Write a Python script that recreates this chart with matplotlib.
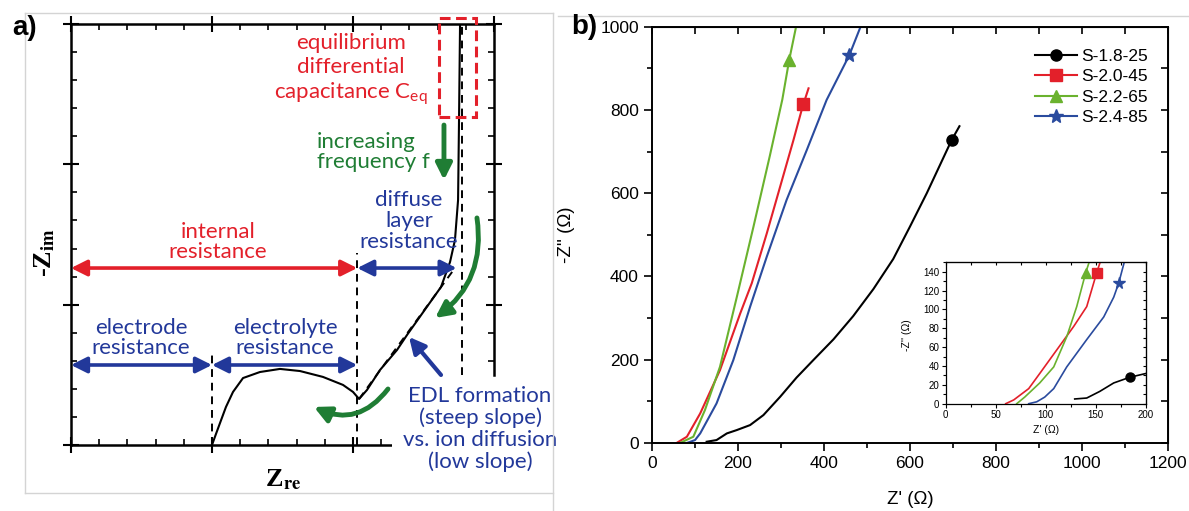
import matplotlib
matplotlib.use('Agg')
import matplotlib.pyplot as plt
from matplotlib.lines import Line2D
from matplotlib.patches import Rectangle, FancyArrowPatch
from matplotlib.ticker import MultipleLocator

plt.rcParams['mathtext.fontset'] = 'stix'
plt.rcParams['font.family'] = ['Liberation Sans', 'DejaVu Sans']

# ---- panel a: schematic Nyquist curve (arbitrary units, 0..3) ----
schem_x = [1.000, 1.028, 1.057, 1.099, 1.149, 1.220, 1.340, 1.482, 1.624, 1.787,
           1.929, 2.000, 2.043, 2.099, 2.191, 2.312, 2.383, 2.518, 2.624, 2.688,
           2.723, 2.745, 2.752, 2.759]
schem_y = [0.000, 0.078, 0.157, 0.271, 0.378, 0.477, 0.520, 0.542, 0.527, 0.485,
           0.428, 0.378, 0.328, 0.392, 0.534, 0.677, 0.784, 0.976, 1.126, 1.304,
           1.461, 1.746, 2.337, 3.000]
slope_x = [2.043, 2.723]
slope_y = [0.328, 1.261]
r_electrode = 1.0      # end of electrode resistance
r_internal = 2.03      # end of internal resistance
r_diffuse = 2.77       # end of diffuse layer resistance
ceq_box = (2.61, 2.34, 0.26, 0.70)   # x, y, w, h of the C_eq region

# ---- panel b: measured spectra ----
names = ['S-1.8-25', 'S-2.0-45', 'S-2.2-65', 'S-2.4-85']
colors = ['black', '#e3202a', '#6ab22e', '#2a4b9e']
markers = ['o', 's', '^', '*']

zre_18 = [127, 150, 174, 197, 228, 259, 298, 336, 375, 422, 468, 515, 561, 600, 639, 697, 715]
zim_18 = [3, 7, 23, 31, 43, 67, 111, 157, 199, 249, 305, 370, 442, 520, 600, 728, 761]
zre_20 = [57, 81, 112, 158, 205, 232, 267, 298, 329, 348, 352, 364]
zim_20 = [0, 15, 71, 175, 311, 384, 504, 616, 728, 800, 814, 852]
zre_22 = [65, 96, 123, 158, 197, 236, 274, 303, 319, 335]
zim_22 = [0, 15, 79, 183, 350, 520, 690, 825, 920, 1000]
zre_24 = [81, 100, 112, 150, 189, 228, 267, 313, 360, 406, 459, 485]
zim_24 = [0, 7, 23, 95, 199, 327, 448, 584, 704, 824, 932, 1000]
mark_main = [15, 10, 8, 10]

# inset (low impedance region)
zre_18i = [129, 141, 154, 168, 184, 200]
zim_18i = [5, 6, 13, 22, 28, 32]
zre_20i = [60, 68, 83, 94, 111, 128, 141, 151, 155]
zim_20i = [0, 4, 16, 32, 57, 82, 103, 139, 152]
zre_22i = [71, 79, 94, 108, 121, 131, 140, 144]
zim_22i = [0, 7, 22, 39, 71, 103, 139, 152]
zre_24i = [83, 91, 99, 108, 121, 141, 158, 168, 173, 179]
zim_24i = [0, 2, 7, 16, 39, 68, 92, 113, 128, 152]
mark_inset = [4, 7, 6, 8]

RED = '#e3202a'
BLUE = '#22389a'
GREEN = '#1f7d34'
TXT = ['Lato', 'DejaVu Sans']

fig = plt.figure(figsize=(11.89, 5.11), dpi=100)

# light frames around the panels
for xs, ys in [([0.021, 0.465], [0.9746, 0.9746]), ([0.021, 0.465], [0.0352, 0.0352]),
               ([0.021, 0.021], [0.9746, 0.0352]), ([0.465, 0.465], [0.9746, 0.0]),
               ([0.469, 1.0], [0.9687, 0.9687])]:
    fig.add_artist(Line2D(xs, ys, transform=fig.transFigure, color='#d4d4d4', lw=1))

# ================= panel a =================
axa = fig.add_axes([0.0597, 0.1292, 0.3558, 0.8238])
axa.set_xlim(0, 3)
axa.set_ylim(0, 3)
axa.plot(schem_x, schem_y, color='black', lw=1.5, zorder=4)
axa.plot(slope_x, slope_y, color='black', lw=1.4, dashes=(4, 3), zorder=4)
axa.vlines(r_electrode, 0, 0.64, color='black', lw=1.4, linestyles=(0, (4, 3)))
axa.vlines(r_internal, 0, 1.37, color='black', lw=1.4, linestyles=(0, (4, 3)))
axa.vlines(r_diffuse, 0.50, 3.0, color='black', lw=1.4, linestyles=(0, (4, 3)))
axa.add_patch(Rectangle(ceq_box[:2], ceq_box[2], ceq_box[3], fill=False, ec=RED, lw=2.2,
                        ls=(0, (3.5, 1.8)), clip_on=False, zorder=5))

axa.xaxis.set_major_locator(MultipleLocator(1))
axa.xaxis.set_minor_locator(MultipleLocator(0.2))
axa.yaxis.set_major_locator(MultipleLocator(1))
axa.yaxis.set_minor_locator(MultipleLocator(0.2))
axa.tick_params(which='major', direction='inout', length=11, width=1.5, top=True, right=True,
                labelbottom=False, labelleft=False)
axa.tick_params(which='minor', direction='in', length=4.5, width=1.2, top=True, right=True)
for s in axa.spines.values():
    s.set_linewidth(1.8)
axa.spines['right'].set_bounds(0.5, 3)
axa.spines['bottom'].set_bounds(0, 2.29)
axa.add_patch(Rectangle((0.76, -0.06), 0.3, 0.21, transform=axa.transAxes, fc='white',
                        ec='none', clip_on=False, zorder=2.6))

axa.text(-0.062, 0.458, r'-Z$_{\mathbf{im}}$', rotation=90, transform=axa.transAxes,
         fontsize=19, family='Liberation Serif', weight='bold', ha='center', va='center')
axa.text(0.501, -0.083, r'Z$_{\mathbf{re}}$', transform=axa.transAxes,
         fontsize=19, family='Liberation Serif', weight='bold', ha='center', va='center')

def label(x, y, s, color, ha='center', ls=1.15):
    axa.text(x, y, s, color=color, fontsize=16, family=TXT, ha=ha, va='center',
             linespacing=ls, clip_on=False, zorder=6)

label(1.986, 2.672, 'equilibrium\ndifferential\ncapacitance C$_{\\mathregular{eq}}$', RED, ls=1.22)
label(1.745, 2.088, 'increasing\nfrequency f', GREEN, ha='left', ls=1.05)
label(2.397, 1.596, 'diffuse\nlayer\nresistance', BLUE, ls=1.05)
label(1.043, 1.447, 'internal\nresistance', RED, ls=1.05)
label(0.496, 0.762, 'electrode\nresistance', BLUE, ls=1.0)
label(1.518, 0.762, 'electrolyte\nresistance', BLUE, ls=1.0)
label(2.901, 0.114, 'EDL formation\n(steep slope)\nvs. ion diffusion\n(low slope)', BLUE, ls=1.08)

def arrow(p0, p1, color, style, ms, lw, rad=0.0):
    axa.add_patch(FancyArrowPatch(p0, p1, arrowstyle=style, mutation_scale=ms, lw=lw,
                                  color=color, connectionstyle=f'arc3,rad={rad}',
                                  shrinkA=0, shrinkB=0, clip_on=False, zorder=6))

arrow((0, 1.261), (r_internal, 1.261), RED, '<|-|>', 24, 2.6)
arrow((r_internal, 1.261), (2.735, 1.261), BLUE, '<|-|>', 24, 2.6)
arrow((0, 0.570), (r_electrode, 0.570), BLUE, '<|-|>', 24, 2.6)
arrow((r_electrode, 0.570), (r_internal, 0.570), BLUE, '<|-|>', 24, 2.6)
arrow((2.645, 2.280), (2.645, 1.888), GREEN, '-|>', 24, 3.5)
arrow((2.879, 1.618), (2.582, 0.905), GREEN, '-|>', 24, 3.5, rad=-0.3)
arrow((2.248, 0.399), (1.723, 0.271), GREEN, '-|>', 24, 3.5, rad=-0.4)
arrow((2.624, 0.499), (2.397, 0.770), BLUE, '-|>', 24, 3.0)

fig.text(25 / 1189, 1 - 28 / 511, 'a)', fontsize=20, weight='bold', ha='center', va='center')
fig.text(584 / 1189, 1 - 27 / 511, 'b)', fontsize=20, weight='bold', ha='center', va='center')

# ================= panel b =================
axb = fig.add_axes([0.5484, 0.1331, 0.4339, 0.8146])
main = [(zre_18, zim_18), (zre_20, zim_20), (zre_22, zim_22), (zre_24, zim_24)]
sizes = [8, 8, 8, 10]
for (x, y), c, m, n, k, ms in zip(main, colors, markers, names, mark_main, sizes):
    axb.plot(x, y, color=c, lw=1.5, marker=m, markevery=[k], ms=ms, label=n)
axb.set_xlim(0, 1200)
axb.set_ylim(0, 1000)
axb.xaxis.set_major_locator(MultipleLocator(200))
axb.xaxis.set_minor_locator(MultipleLocator(100))
axb.yaxis.set_major_locator(MultipleLocator(200))
axb.yaxis.set_minor_locator(MultipleLocator(100))
axb.tick_params(which='major', direction='out', length=6, width=1.2, labelsize=12.5)
axb.tick_params(which='minor', direction='out', length=3.5, width=1.2)
for s in axb.spines.values():
    s.set_linewidth(1.4)
top = axb.secondary_xaxis('top')
top.xaxis.set_major_locator(MultipleLocator(100))
top.tick_params(direction='in', length=5, width=1.2, labeltop=False)
right = axb.secondary_yaxis('right')
right.yaxis.set_major_locator(MultipleLocator(100))
right.tick_params(direction='in', length=5, width=1.2, labelright=False)
axb.set_xlabel("Z' (Ω)", fontsize=13.5)
axb.xaxis.set_label_coords(0.5, -0.115)
axb.set_ylabel("-Z'' (Ω)", fontsize=13.5)
axb.yaxis.set_label_coords(-0.15, 0.5)
axb.legend(loc='upper left', bbox_to_anchor=(0.742, 0.947), frameon=False, fontsize=12.5,
           handlelength=2.4, handletextpad=0.25, labelspacing=0.3, borderpad=0,
           borderaxespad=0)

# inset
axi = fig.add_axes([0.7954, 0.21, 0.1682, 0.2767])
inset = [(zre_18i, zim_18i), (zre_20i, zim_20i), (zre_22i, zim_22i), (zre_24i, zim_24i)]
for (x, y), c, m, k, ms in zip(inset, colors, markers, mark_inset, [6.5, 6.5, 6.5, 8.5]):
    axi.plot(x, y, color=c, lw=1.2, marker=m, markevery=[k], ms=ms)
axi.set_xlim(0, 200)
axi.set_ylim(0, 150)
axi.xaxis.set_major_locator(MultipleLocator(50))
axi.xaxis.set_minor_locator(MultipleLocator(25))
axi.yaxis.set_major_locator(MultipleLocator(20))
axi.yaxis.set_minor_locator(MultipleLocator(10))
axi.tick_params(which='major', direction='out', length=3, width=0.8, labelsize=7, pad=1.5)
axi.tick_params(which='minor', direction='out', length=2, width=0.8)
for s in axi.spines.values():
    s.set_linewidth(0.9)
itop = axi.secondary_xaxis('top')
itop.xaxis.set_major_locator(MultipleLocator(25))
itop.tick_params(direction='in', length=2.5, width=0.8, labeltop=False)
iright = axi.secondary_yaxis('right')
iright.yaxis.set_major_locator(MultipleLocator(10))
iright.tick_params(direction='in', length=2.5, width=0.8, labelright=False)
axi.set_xlabel("Z' (Ω)", fontsize=7.5)
axi.xaxis.set_label_coords(0.5, -0.15)
axi.set_ylabel("-Z'' (Ω)", fontsize=7.5)
axi.yaxis.set_label_coords(-0.17, 0.486)

fig.savefig('out.png', dpi=100, facecolor='white')
